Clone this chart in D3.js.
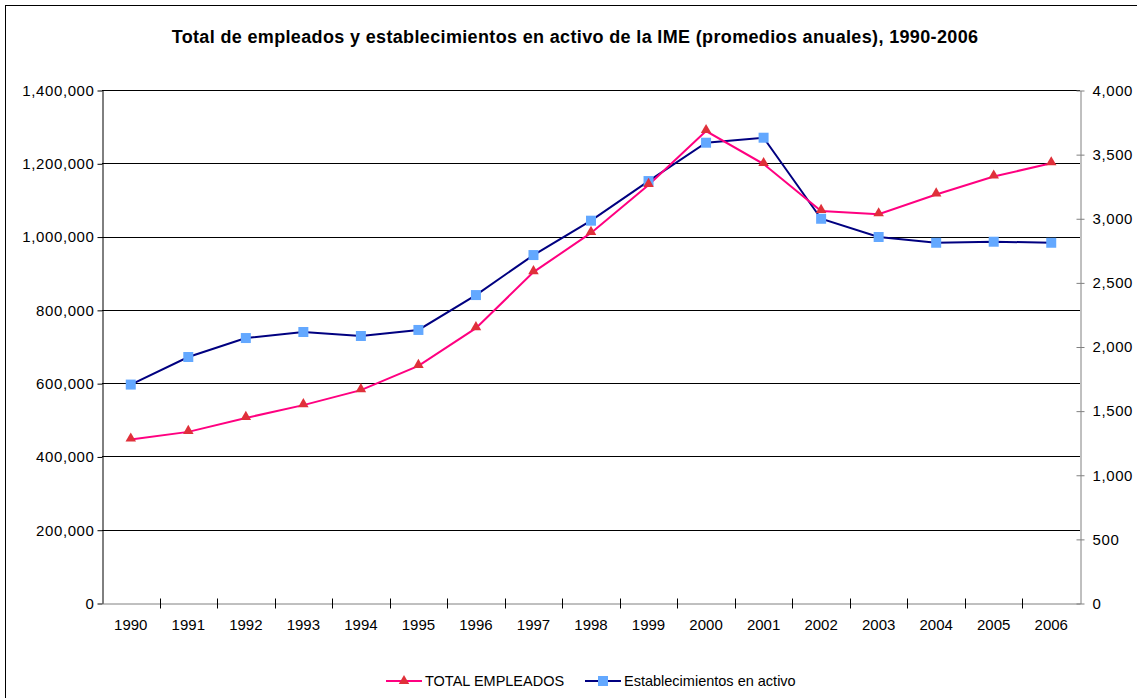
<!DOCTYPE html>
<html>
<head>
<meta charset="utf-8">
<script src="https://cdn.jsdelivr.net/npm/d3@7"></script>
<style>
  body { margin: 0; background: #fff; }
  svg text { font-family: "Liberation Sans", Arial, sans-serif; fill: #000; }
</style>
</head>
<body>
<div id="chart"></div>
<script>
var years = ["1990", "1991", "1992", "1993", "1994", "1995", "1996", "1997", "1998",
             "1999", "2000", "2001", "2002", "2003", "2004", "2005", "2006"];
var empleados = [446000, 467000, 505000, 540000, 581000, 647000, 750000, 903000, 1010000,
                 1141000, 1288000, 1198000, 1070000, 1061000, 1115000, 1164000, 1200000];
var establecimientos = [1703, 1918, 2066, 2113, 2082, 2129, 2401, 2713, 2981,
                        3290, 3589, 3628, 2996, 2854, 2809, 2817, 2809];
var leftTicks = [0, 200000, 400000, 600000, 800000, 1000000, 1200000, 1400000];
var rightTicks = [0, 500, 1000, 1500, 2000, 2500, 3000, 3500, 4000];

var W = 1137, H = 698;
var plot = { left: 102, right: 1080, top: 90, bottom: 603 };

var svg = d3.select("#chart").append("svg")
    .attr("width", W)
    .attr("height", H);

// outer frame
svg.append("rect")
    .attr("x", 5.5).attr("y", 5.5)
    .attr("width", W + 10).attr("height", H + 10)
    .attr("fill", "none")
    .attr("stroke", "#000");

svg.append("text")
    .attr("x", 575).attr("y", 43)
    .attr("text-anchor", "middle")
    .attr("font-size", 18)
    .attr("letter-spacing", 0.35)
    .attr("font-weight", "bold")
    .text("Total de empleados y establecimientos en activo de la IME (promedios anuales), 1990-2006");

var x = d3.scaleBand().domain(years).range([plot.left, plot.right]);
var yL = d3.scaleLinear().domain([0, 1400000]).range([plot.bottom, plot.top]);
var yR = d3.scaleLinear().domain([0, 4000]).range([plot.bottom, plot.top]);
var fmt = d3.format(",");

// gridlines
svg.append("g").selectAll("line")
    .data(leftTicks.slice(1))
    .enter().append("line")
    .attr("x1", plot.left).attr("x2", plot.right)
    .attr("y1", function(d) { return Math.round(yL(d)) + 0.5; })
    .attr("y2", function(d) { return Math.round(yL(d)) + 0.5; })
    .attr("stroke", "#000")
    .attr("stroke-width", 1);

// left axis
var gL = svg.append("g")
    .attr("transform", "translate(" + (plot.left + 0.5) + ",0.5)")
    .call(d3.axisLeft(yL).tickValues(leftTicks).tickFormat(fmt).tickSize(5).tickSizeOuter(0).tickPadding(3));
gL.select(".domain").attr("stroke", "#000");
gL.selectAll(".tick line").attr("stroke", "#000");
gL.selectAll("text").attr("font-size", 15).attr("letter-spacing", 0.6)
    .attr("font-family", "Liberation Sans, Arial, sans-serif");

// right axis
var gR = svg.append("g")
    .attr("transform", "translate(" + (plot.right + 0.5) + ",0.5)")
    .call(d3.axisRight(yR).tickValues(rightTicks).tickFormat(fmt).tickSize(4).tickSizeOuter(0).tickPadding(8));
gR.select(".domain").attr("stroke", "#808080");
gR.selectAll(".tick line").attr("stroke", "#808080").attr("x1", -4);
gR.selectAll("text").attr("font-size", 15).attr("letter-spacing", 0.6)
    .attr("font-family", "Liberation Sans, Arial, sans-serif");

// bottom axis
var gB = svg.append("g")
    .attr("transform", "translate(0," + (plot.bottom + 0.5) + ")")
    .call(d3.axisBottom(x).tickSize(0).tickPadding(16));
gB.select(".domain").attr("stroke", "#808080");
gB.selectAll("text").attr("font-size", 15).attr("font-family", "Liberation Sans, Arial, sans-serif");
gB.selectAll("line.sep")
    .data(years.slice(1))
    .enter().append("line")
    .attr("class", "sep")
    .attr("x1", function(d) { return Math.round(x(d)) + 0.5; })
    .attr("x2", function(d) { return Math.round(x(d)) + 0.5; })
    .attr("y1", -5).attr("y2", 5)
    .attr("stroke", "#000");

function cx(d, i) { return x(years[i]) + x.bandwidth() / 2; }

var triangle = d3.symbol().type(d3.symbolTriangle).size(48);
var square = d3.symbol().type(d3.symbolSquare).size(100);

// establecimientos series (right axis)
svg.append("path")
    .datum(establecimientos)
    .attr("fill", "none")
    .attr("stroke", "#000080")
    .attr("stroke-width", 2)
    .attr("d", d3.line().x(cx).y(function(d) { return yR(d); }));

// empleados series (left axis)
svg.append("path")
    .datum(empleados)
    .attr("fill", "none")
    .attr("stroke", "#FF0080")
    .attr("stroke-width", 2)
    .attr("d", d3.line().x(cx).y(function(d) { return yL(d); }));

svg.append("g").selectAll("path")
    .data(establecimientos)
    .enter().append("path")
    .attr("d", square)
    .attr("fill", "#63A8FF")
    .attr("transform", function(d, i) { return "translate(" + cx(d, i) + "," + yR(d) + ")"; });

svg.append("g").selectAll("path")
    .data(empleados)
    .enter().append("path")
    .attr("d", triangle)
    .attr("fill", "#E0303A")
    .attr("transform", function(d, i) { return "translate(" + cx(d, i) + "," + (yL(d) - 1) + ")"; });

// legend
var legend = svg.append("g").attr("transform", "translate(0,681)");
var items = [
    { label: "TOTAL EMPLEADOS", x: 386, stroke: "#FF0080", fill: "#E0303A", sym: triangle },
    { label: "Establecimientos en activo", x: 585, stroke: "#000080", fill: "#63A8FF", sym: square }
];
var li = legend.selectAll("g").data(items).enter().append("g")
    .attr("transform", function(d) { return "translate(" + d.x + ",0)"; });
li.append("line")
    .attr("x1", 0).attr("x2", 36).attr("y1", 0).attr("y2", 0)
    .attr("stroke", function(d) { return d.stroke; })
    .attr("stroke-width", 2);
li.append("path")
    .attr("d", function(d) { return d.sym(); })
    .attr("transform", "translate(18,0)")
    .attr("fill", function(d) { return d.fill; });
li.append("text")
    .attr("x", 39).attr("y", 5)
    .attr("font-size", 14.5)
    .text(function(d) { return d.label; });
</script>
</body>
</html>
